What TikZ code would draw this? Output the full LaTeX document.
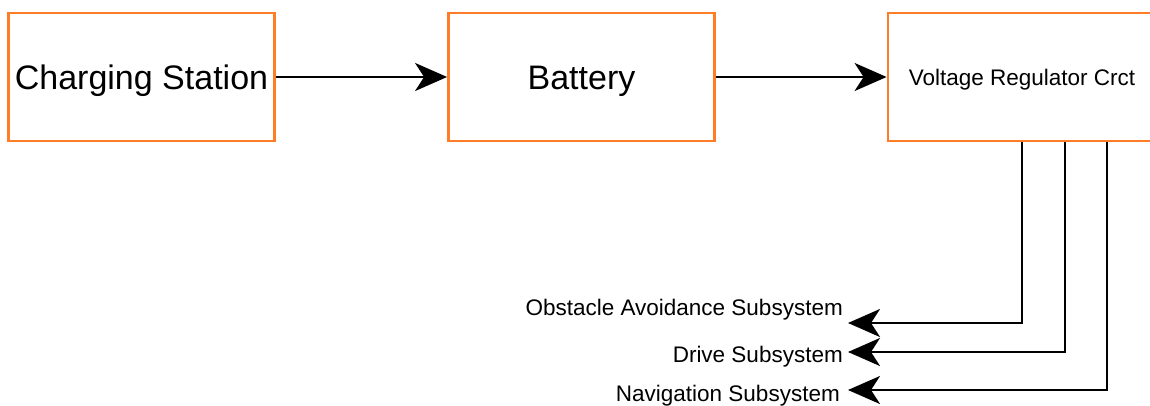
\documentclass[tikz,border=0pt]{standalone}
\usepackage{fontspec}
\setmainfont{Liberation Sans}
\usetikzlibrary{arrows.meta}
\definecolor{boxorange}{RGB}{255,125,38}
\tikzset{
  blockbox/.style={draw=boxorange, line width=2.8pt, fill=white, minimum width=266pt, minimum height=128pt, inner sep=0pt, text height=24.5pt, text depth=0pt, font=\fontsize{34}{40}\selectfont},
  smallbox/.style={blockbox, text height=16.2pt, font=\fontsize{22.5}{26}\selectfont},
  conn/.style={line width=2.5pt, -{Stealth[length=32pt, width=28pt, inset=9pt]}},
  lbl/.style={anchor=east, inner sep=0pt, text height=16.2pt, text depth=0pt, font=\fontsize{22.5}{26}\selectfont}
}
\begin{document}
\begin{tikzpicture}[x=1pt, y=-1pt]
\useasboundingbox (0,0) rectangle (1150,406);
\node[blockbox] (cs) at (141.5,77) {Charging Station};
\node[blockbox] (bat) at (581.5,77) {Battery};
\node[smallbox, minimum width=268pt] (vr) at (1022,77) {Voltage Regulator Crct};
\node[lbl] (oa) at (843,307) {Obstacle Avoidance Subsystem};
\node[lbl] (dr) at (843,354) {Drive Subsystem};
\node[lbl] (nav) at (840,393) {Navigation Subsystem};
\coordinate (toa) at (848,323);
\coordinate (tdr) at (848,352);
\coordinate (tnav) at (848,390);
\draw[conn] (cs.east) -- (bat.west);
\draw[conn] (bat.east) -- (vr.west);
\draw[conn] (vr.south) -- (1022,323) -- (toa);
\draw[conn] (vr.south -| 1065,0) -- (1065,352) -- (tdr);
\draw[conn] (vr.south -| 1107,0) -- (1107,390) -- (tnav);
\end{tikzpicture}
\end{document}
